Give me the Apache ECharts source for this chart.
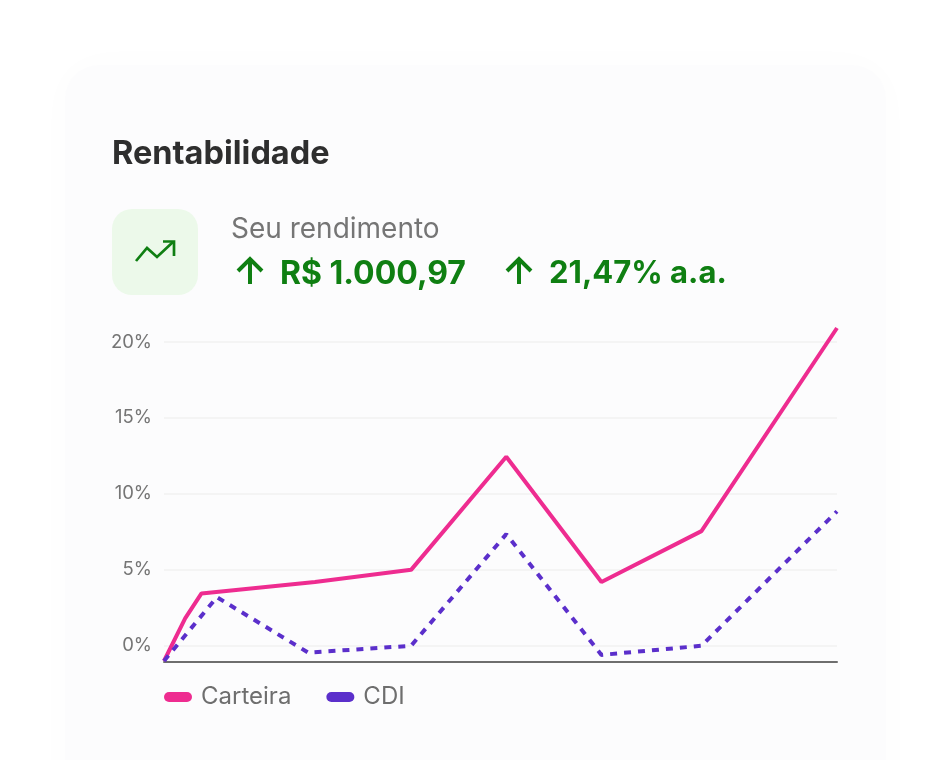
<!DOCTYPE html>
<html><head><meta charset="utf-8">
<script src="https://cdn.jsdelivr.net/npm/echarts@6/dist/echarts.min.js"></script>
<style>html,body{margin:0;padding:0;background:#fff}#c{width:950px;height:760px}</style>
</head><body><div id="c"></div>
<script>
const carteiraX = [0, 0.22, 0.39, 1.57, 2.57, 3.56, 4.55, 5.59, 7];
const carteira = [-1.0, 1.8, 3.45, 4.2, 5.0, 12.45, 4.2, 7.55, 20.92];
const cdiX = [0, 0.55, 1.5, 2.57, 3.56, 4.55, 5.59, 7];
const cdi = [-1.0, 3.2, -0.45, 0, 7.35, -0.6, 0, 8.85];
const seriesNames = ['Carteira', 'CDI'];
const yTicks = [0, 5, 10, 15, 20];
const F = 'Inter, "Noto Sans", sans-serif';
const pill = 'path://M5 0H23A5 5 0 0 1 23 10H5A5 5 0 0 1 5 0Z';
const chart = echarts.init(document.getElementById('c'), null, {renderer:'canvas'});
const green = '#0f7f12';
function arrow(x, y){
  return {type:'polyline', silent:true, z:2, shape:{points:[[x,y+26],[x,y+1]]}, style:{stroke:green,lineWidth:4,fill:null}};
}
function arrowHead(x, y){
  return {type:'polyline', silent:true, z:2, shape:{points:[[x-12,y+13],[x,y+1],[x+12,y+13]]}, style:{stroke:green,lineWidth:4,fill:null}};
}
chart.setOption({
  animation:false,
  backgroundColor:'#ffffff',
  grid:{left:164, right:113, top:328, bottom:38.25},
  xAxis:{type:'value', min:0, max:7, offset:-59.75, axisLabel:{show:false}, axisTick:{show:false}, splitLine:{show:false},
    axisLine:{show:true, onZero:false, lineStyle:{color:'#6e6e6e', width:2}}},
  yAxis:{type:'value', min:-5, max:20.92, interval:5,
    axisLine:{show:false}, axisTick:{show:false},
    axisLabel:{color:'#757575', fontFamily:F, fontSize:18.5, margin:12, padding:[7,0,0,0], showMinLabel:false, showMaxLabel:false,
      formatter:v=> yTicks.includes(v) ? v+'%' : ''},
    splitLine:{showMinLine:false, showMaxLine:false, lineStyle:{color:'#f4f4f4', width:2}}},
  legend:{left:159, top:680, itemWidth:28, itemHeight:10, itemGap:35, icon:pill,
    textStyle:{color:'#6e6e6e', fontFamily:F, fontSize:24, padding:[0,0,0,4]},
    data:seriesNames},
  series:[
    {name:seriesNames[0], type:'line', symbol:'none', z:3, color:'#ee2c90', lineStyle:{color:'#ee2c90', width:4},
     data:carteiraX.map((x,i)=>[x,carteira[i]])},
    {name:seriesNames[1], type:'line', symbol:'none', z:4, color:'#5b2fcb', lineStyle:{color:'#5b2fcb', width:4, type:[7,7]},
     data:cdiX.map((x,i)=>[x,cdi[i]])}
  ],
  graphic:[
    {type:'rect', z:-10, silent:true, shape:{x:65,y:65,width:821,height:760,r:34},
      style:{fill:'#fcfcfd', shadowBlur:40, shadowColor:'rgba(30,40,80,0.015)'}},
    {type:'text', silent:true, style:{x:112,y:154,text:'Rentabilidade',fill:'#2e2e2e',font:'700 32.5px '+F,verticalAlign:'middle'}},
    {type:'rect', silent:true, shape:{x:112,y:209,width:86,height:86,r:20}, style:{fill:'#ecf9ea'}},
    {type:'polyline', silent:true, shape:{points:[[136,261],[147,248],[157,257],[173,242]]}, style:{stroke:green,lineWidth:2.7,fill:null}},
    {type:'polyline', silent:true, shape:{points:[[163,241.5],[174,241.5],[174,256]]}, style:{stroke:green,lineWidth:2.7,fill:null}},
    {type:'text', silent:true, style:{x:231,y:230,text:'Seu rendimento',fill:'#757575',font:'400 28px '+F,verticalAlign:'middle'}},
    arrow(250,258), arrowHead(250,258),
    {type:'text', silent:true, style:{x:280,y:274,text:'R$ 1.000,97',fill:green,font:'700 32px '+F,verticalAlign:'middle'}},
    arrow(519,258), arrowHead(519,258),
    {type:'text', silent:true, style:{x:549,y:274,text:'21,47% a.a.',fill:green,font:'700 31px '+F,verticalAlign:'middle'}}
  ]
});
</script></body></html>
